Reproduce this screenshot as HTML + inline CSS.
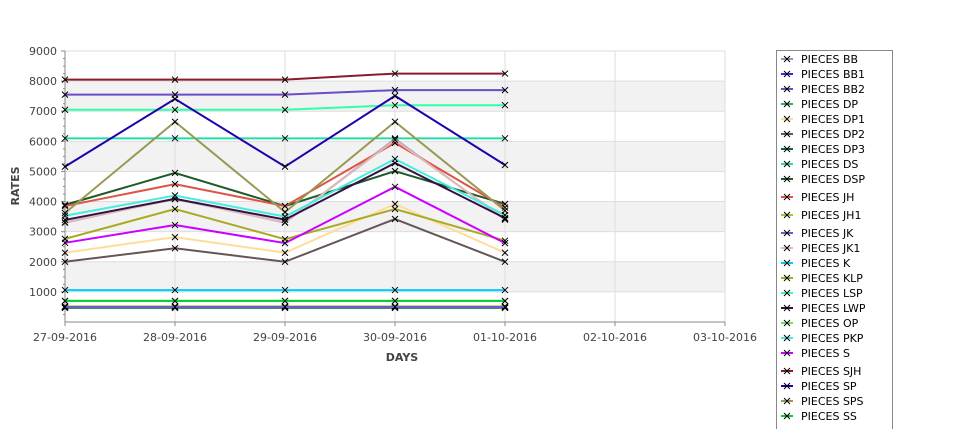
<!DOCTYPE html>
<html><head><meta charset="utf-8"><style>
body{margin:0;background:#fff;font-family:"Liberation Sans","DejaVu Sans",sans-serif}
svg text{font-family:"DejaVu Sans","Liberation Sans",sans-serif}
</style></head><body>
<svg id="chart" width="975" height="429" xmlns="http://www.w3.org/2000/svg"></svg>
<script>
const categories=["27-09-2016","28-09-2016","29-09-2016","30-09-2016","01-10-2016","02-10-2016","03-10-2016"];
const yTicks=[1000,2000,3000,4000,5000,6000,7000,8000,9000];
const seriesNames=["PIECES BB","PIECES BB1","PIECES BB2","PIECES DP","PIECES DP1","PIECES DP2","PIECES DP3","PIECES DS","PIECES DSP","PIECES JH","PIECES JH1","PIECES JK","PIECES JK1","PIECES K","PIECES KLP","PIECES LSP","PIECES LWP","PIECES OP","PIECES PKP","PIECES S","PIECES SJH","PIECES SP","PIECES SPS","PIECES SS"];
const seriesColors=["#aa88bb","#4422ee","#6a4cc8","#33aa66","#ffdd99","#665555","#116644","#22ddaa","#1e5a2a","#dd5544","#99cc33","#7755cc","#ddbbbb","#00ccff","#aaaa22","#33ffaa","#331144","#77dd55","#44eedd","#cc00ff","#8b1a2a","#2200aa","#999955","#00cc33"];
const seriesValues=[
[3300,4100,3300,6080,3400],
[510,510,510,510,510],
[7550,7550,7550,7700,7700],
[470,470,470,470,470],
[2300,2820,2300,3920,2300],
[2000,2450,2000,3420,2000],
[480,480,480,480,480],
[6100,6100,6100,6100,6100],
[3890,4950,3850,5010,3920],
[3850,4580,3850,5950,3800],
[520,520,520,520,520],
[500,500,500,500,500],
[3310,4080,3310,6050,3420],
[1060,1060,1060,1060,1060],
[2760,3750,2750,3750,2700],
[7050,7050,7050,7200,7200],
[3390,4090,3400,5280,3450],
[700,700,700,700,700],
[3530,4200,3500,5415,3550],
[2630,3220,2620,4490,2620],
[8050,8050,8050,8250,8250],
[5160,7410,5160,7510,5215],
[3620,6650,3650,6650,3700],
[700,700,700,700,700]];
const NS="http://www.w3.org/2000/svg";
const svg=document.getElementById('chart');
const L=65,R=725,T=51,B=322,YMAX=9000;
const xS=i=>L+i*(R-L)/(categories.length-1);
const yS=v=>B-v/YMAX*(B-T);
function mk(tag,a,p){const e=document.createElementNS(NS,tag);for(const k in a)e.setAttribute(k,a[k]);(p||svg).appendChild(e);return e;}
// bands
for(let v=1000;v<9000;v+=2000){const r=mk('rect',{x:L,y:yS(v+1000),width:R-L,height:yS(v)-yS(v+1000),fill:'#f2f2f2'});

}
yTicks.forEach(v=>{const g=mk('line',{x1:L,x2:R,y1:yS(v),y2:yS(v),stroke:'#dddddd'});


const t=mk('text',{x:57,y:yS(v)+4,'text-anchor':'end','font-size':11,fill:'#444'});t.textContent=v;


mk('line',{x1:61,x2:L,y1:yS(v),y2:yS(v),stroke:'#888'});});
for(let v=250;v<9000;v+=250){if(v%1000)mk('line',{x1:63,x2:L,y1:yS(v),y2:yS(v),stroke:'#888'});}
categories.forEach((c,i)=>{const g=mk('line',{x1:xS(i),x2:xS(i),y1:T,y2:B,stroke:'#dddddd'});


mk('line',{x1:xS(i),x2:xS(i),y1:B,y2:B+4,stroke:'#888'});
const t=mk('text',{x:xS(i),y:341,'text-anchor':'middle','font-size':11,fill:'#444'});t.textContent=c;

});
mk('line',{x1:L,x2:L,y1:T,y2:B,stroke:'#888'});
mk('line',{x1:L,x2:R,y1:B,y2:B,stroke:'#888'});
const xt=mk('text',{x:402,y:361,'text-anchor':'middle','font-size':11,'font-weight':'bold',fill:'#444'});xt.textContent='DAYS';


const yt=mk('text',{x:19,y:186,'text-anchor':'middle','font-size':11,'font-weight':'bold',fill:'#444',transform:'rotate(-90 19 186)'});yt.textContent='RATES';


function cross(x,y,p){mk('path',{d:`M${x-3} ${y-3}L${x+3} ${y+3}M${x-3} ${y+3}L${x+3} ${y-3}`,stroke:'#000','stroke-width':1},p);}
seriesValues.forEach((vals,s)=>{const g=mk('g',{});


const pts=vals.map((v,i)=>xS(i)+','+yS(v)).join(' ');
mk('polyline',{points:pts,fill:'none',stroke:seriesColors[s],'stroke-width':2},g);
vals.forEach((v,i)=>cross(xS(i),yS(v),g));});
// legend
const lg=mk('g',{});


mk('rect',{x:776.5,y:50.5,width:116,height:390,fill:'#fff',stroke:'#888'},lg);
let ly=59;
seriesNames.forEach((n,s)=>{const e=mk('g',{},lg);


mk('line',{x1:781,x2:793,y1:ly,y2:ly,stroke:seriesColors[s],'stroke-width':2},e);
cross(787,ly,e);
const t=mk('text',{x:801,y:ly+4,'font-size':11,fill:'#000'},e);t.textContent=n;
ly+=15;if(n==='PIECES DSP'||n==='PIECES JH'||n==='PIECES JH1'||n==='PIECES S')ly+=3;});
</script>
</body></html>
